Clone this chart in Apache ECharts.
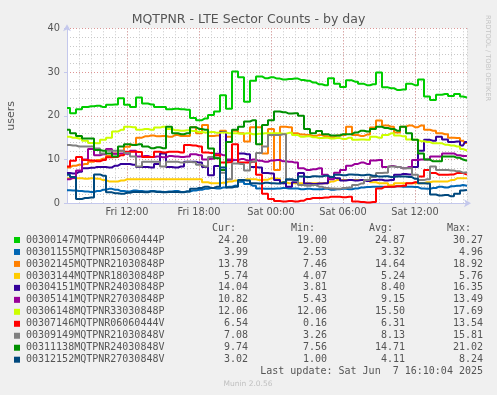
<!DOCTYPE html>
<html><head><meta charset="utf-8">
<script src="https://cdn.jsdelivr.net/npm/echarts@6/dist/echarts.min.js"></script>
<style>html,body{margin:0;padding:0;background:#f0f0f0;}#c{width:497px;height:395px;}</style>
</head><body><div id="c"></div>
<script>
// hours since Fri 00:00
const times = [7,7.5,8,8.5,9,9.5,10,10.5,11,11.5,
12,12.5,13,13.5,14,14.5,15,15.5,16,16.5,
17,17.5,18,18.5,19,19.5,20,20.5,21,21.5,
22,22.5,23,23.5,24,24.5,25,25.5,26,26.5,
27,27.5,28,28.5,29,29.5,30,30.5,31,31.5,
32,32.5,33,33.5,34,34.5,35,35.5,36,36.5,
37,37.5,38,38.5,39,39.5,40,40.33];

const xTickValues = [12, 18, 24, 30, 36];
const xTickLabels = ['Fri 12:00', 'Fri 18:00', 'Sat 00:00', 'Sat 06:00', 'Sat 12:00'];
const yTickValues = [0, 10, 20, 30, 40];

const names = ['00300147MQTPNR06060444P','00301155MQTPNR15030848P','00302145MQTPNR21030848P','00303144MQTPNR18030848P','00304151MQTPNR24030848P','00305141MQTPNR27030848P','00306148MQTPNR33030848P','00307146MQTPNR06060444V','00309149MQTPNR21030848V','00311138MQTPNR24030848V','00312152MQTPNR27030848V'];
const colors = ['#00cc00','#0066b3','#ff8000','#ffcc00','#330099','#990099','#ccff00','#ff0000','#808080','#008f00','#00487d'];
const curVals = ['24.20','3.99','13.78','5.74','14.04','10.82','12.06','6.54','7.08','9.74','3.02'];
const minVals = ['19.00','2.53','7.46','4.07','3.81','5.43','12.06','0.16','3.26','7.56','1.00'];
const avgVals = ['24.87','3.32','14.64','5.24','8.40','9.15','15.50','6.31','8.13','14.71','4.11'];
const maxVals = ['30.27','4.96','18.92','5.76','16.35','13.49','17.69','13.54','15.81','21.02','8.24'];

const s00300147 = [21.8,20.6,21.5,22.0,22.2,22.3,22.0,22.5,22.6,24.0,
22.5,22.0,24.2,22.8,22.6,22.0,22.0,21.5,21.6,21.5,
21.4,19.5,19.0,19.4,20.2,21.0,24.7,21.6,30.1,28.8,
23.2,28.0,29.0,28.6,28.8,28.5,28.3,28.4,28.5,28.2,
28.0,27.6,27.2,27.0,28.6,27.3,26.6,28.1,27.8,27.3,
27.0,27.2,29.9,26.5,26.3,25.9,26.0,27.3,27.0,28.3,
24.4,23.6,24.8,25.0,24.5,25.0,24.4,24.2];
const s00301155 = [3.0,2.9,2.8,2.7,2.6,2.8,3.1,3.3,3.1,2.8,
2.7,2.9,2.8,2.7,2.8,2.7,2.6,2.7,2.8,2.6,
2.7,2.9,3.1,3.3,3.5,3.4,3.6,3.8,4.0,4.9,
4.4,4.0,3.4,3.3,3.3,3.4,3.5,3.4,3.4,3.2,
3.3,3.2,3.2,3.3,3.1,3.2,3.3,3.2,3.4,3.6,
3.7,3.8,3.8,3.7,3.8,3.9,3.8,3.8,3.7,3.4,
3.3,3.5,3.8,3.6,3.9,4.0,4.2,4.0];
const s00302145 = [8.2,8.6,8.8,9.0,9.5,9.9,10.2,10.8,11.4,12.0,
12.9,13.4,15.0,15.3,15.5,15.3,15.4,15.2,15.6,15.4,
15.4,17.4,16.0,17.9,15.4,15.5,16.6,15.2,16.6,16.0,
14.1,17.4,17.4,11.4,17.0,7.6,17.5,17.4,16.0,15.7,
15.6,15.4,15.6,15.3,15.1,15.5,15.6,17.5,15.6,15.4,
15.7,17.3,18.9,17.8,17.5,16.2,17.5,17.8,17.4,17.8,
16.8,16.6,16.0,15.8,15.0,14.9,14.3,13.8];
const s00303144 = [5.7,5.7,5.7,5.6,5.7,5.6,5.3,5.0,5.0,5.2,
5.5,5.5,5.5,5.5,5.5,5.5,5.5,5.5,5.5,5.5,
5.5,5.5,5.5,4.8,4.6,4.6,4.7,5.0,5.2,5.3,
5.5,5.5,5.3,5.4,5.7,5.6,4.8,4.6,4.6,4.6,
4.6,4.6,4.6,4.6,5.0,5.3,5.3,5.3,5.3,5.3,
5.3,4.8,4.6,4.6,4.1,4.6,4.6,4.6,4.6,4.6,
4.8,5.0,5.0,5.0,5.3,5.7,5.7,5.74];
const s00304151 = [6.9,6.8,7.2,8.0,8.1,8.3,8.3,8.2,8.6,9.0,
9.0,8.8,8.3,8.3,8.2,9.0,11.4,8.3,8.2,8.4,
9.5,9.5,9.3,8.3,6.4,8.5,16.3,9.8,9.9,11.4,
11.2,8.3,8.2,6.9,6.8,5.3,4.6,3.8,4.8,6.9,
4.5,4.4,4.5,4.6,5.9,5.7,5.2,5.3,5.2,5.3,
5.1,5.3,5.4,5.2,5.3,6.5,6.7,6.6,8.3,12.0,
14.5,14.3,15.2,14.6,14.0,14.1,13.2,14.0];
const s00305141 = [5.5,5.8,7.5,10.0,12.4,11.0,11.2,12.4,11.3,11.4,
11.3,12.0,10.7,10.8,10.6,10.7,10.5,10.8,10.7,10.6,
10.7,11.2,11.0,10.0,10.2,11.3,11.0,10.0,9.9,10.1,
9.8,10.0,9.7,9.5,9.8,9.9,9.6,9.5,9.3,8.0,
7.6,7.8,8.0,6.5,5.5,7.0,7.6,8.6,9.0,9.3,
9.0,9.8,9.9,8.3,8.5,8.3,8.0,8.3,9.9,10.0,
10.0,10.7,10.7,11.4,11.4,11.0,10.8,10.82];
const s00306148 = [15.2,15.0,14.8,14.3,13.8,13.7,14.5,15.0,16.4,16.8,
17.5,17.4,16.8,17.0,16.8,17.3,17.5,17.0,16.7,16.6,
16.7,16.5,16.3,16.2,16.3,16.1,16.2,16.0,16.0,15.9,
16.0,15.8,15.9,16.0,16.0,16.0,15.9,16.1,15.6,15.2,
15.3,15.1,14.9,15.0,14.8,14.9,14.7,15.0,14.5,14.6,
14.5,15.2,15.0,15.6,16.0,15.5,15.3,14.6,14.5,14.2,
14.0,13.7,13.7,13.4,13.2,13.0,12.4,12.06];
const s00307146 = [8.4,9.7,10.6,9.9,9.8,9.6,9.9,10.5,10.6,11.0,
11.8,11.8,11.7,10.6,10.6,11.8,11.6,11.8,11.8,11.6,
13.3,13.2,13.0,11.6,11.5,11.0,9.3,9.4,13.5,9.3,
9.3,9.5,6.5,2.2,1.0,0.5,0.4,0.5,0.4,0.6,
1.0,1.2,1.2,1.3,1.5,1.5,1.4,1.5,0.4,0.3,
0.2,0.3,3.4,3.8,3.8,3.9,4.0,4.6,4.8,6.1,
7.6,6.9,6.5,6.5,6.6,6.9,6.9,6.54];
const s00309149 = [13.3,13.2,13.0,13.0,13.0,12.5,11.4,12.0,12.0,12.0,
11.5,10.7,8.4,9.5,9.5,9.5,8.4,9.5,9.5,9.3,
9.5,9.4,8.8,8.4,10.6,10.4,7.0,5.5,9.1,9.0,
7.5,9.5,11.5,13.0,15.6,15.6,15.8,5.3,5.2,4.2,
4.0,4.2,3.8,3.5,3.4,3.3,3.5,3.6,4.2,4.5,
5.3,6.0,6.9,7.0,8.4,8.3,8.0,8.0,6.5,5.3,
5.5,8.4,7.6,7.6,7.5,7.3,7.0,7.08];
const s00311138 = [16.8,16.0,15.4,14.8,14.8,12.2,12.0,11.4,10.7,13.0,
13.5,13.3,13.5,13.0,12.6,12.8,12.6,17.5,16.0,15.8,
16.0,17.4,17.0,16.8,12.5,10.3,7.6,14.0,16.8,17.5,
18.7,19.0,13.5,17.9,19.0,21.0,20.8,20.5,20.6,20.0,
17.0,16.0,16.5,15.8,15.5,15.5,15.8,15.8,16.2,16.6,
16.4,17.0,17.5,17.2,17.0,16.6,17.5,16.0,14.5,11.4,
10.0,9.6,9.6,10.7,10.7,10.4,10.0,9.74];
const s00312152 = [6.5,6.0,1.0,1.2,1.3,6.6,6.3,2.5,2.3,2.2,
2.4,2.6,2.6,2.5,2.7,2.6,2.5,2.6,2.6,2.5,
2.7,3.3,3.5,3.8,3.5,3.8,8.2,3.6,3.8,5.3,
5.2,4.6,4.5,4.7,4.6,4.5,4.8,5.5,5.3,6.1,
6.0,6.2,6.1,6.3,6.0,6.5,6.4,6.6,6.5,6.4,
6.5,6.3,6.1,6.2,6.0,6.1,6.1,6.0,5.6,4.6,
4.5,2.0,1.8,1.9,1.6,2.2,2.9,3.02];

const seriesValues = [s00300147,s00301155,s00302145,s00303144,s00304151,s00305141,s00306148,s00307146,s00309149,s00311138,s00312152];

const chart = echarts.init(document.getElementById('c'), null, {renderer:'canvas'});
const TXT = '#555555';
const AX = '#c4c8ec';
const MINOR = '#c8c8c8';
const MAJOR = '#dd9494';
const SANS = 'DejaVu Sans';

const graphics = [];
graphics.push({type:'text', x:248.5, y:19.5, style:{text:'MQTPNR - LTE Sector Counts - by day', fill:TXT, font:'12.5px "DejaVu Sans"', align:'center', verticalAlign:'middle'}});
graphics.push({type:'text', x:488, y:15, rotation:-Math.PI/2, style:{text:'RRDTOOL / TOBI OETIKER', fill:'#c4c4c4', font:'6.7px "DejaVu Sans"', align:'left', verticalAlign:'middle'}});
const colR = [248, 327, 405, 483];
const hdr = ['Cur:', 'Min:', 'Avg:', 'Max:'];
hdr.forEach((h, k) => graphics.push({type:'text', x:colR[k]-12, y:228.5, style:{text:h, fill:TXT, font:'10px "DejaVu Sans Mono"', align:'right', verticalAlign:'middle'}}));
names.forEach((n, i) => {
  const y = 240 + i * 11.97;
  graphics.push({type:'rect', shape:{x:14, y:y-3, width:6, height:6}, style:{fill:colors[i]}});
  graphics.push({type:'text', x:26, y:y, style:{text:n, fill:TXT, font:'10px "DejaVu Sans Mono"', align:'left', verticalAlign:'middle'}});
  [curVals, minVals, avgVals, maxVals].forEach((arr, k) => {
    graphics.push({type:'text', x:colR[k], y:y, style:{text:arr[i], fill:TXT, font:'10px "DejaVu Sans Mono"', align:'right', verticalAlign:'middle'}});
  });
});
graphics.push({type:'text', x:483, y:371.7, style:{text:'Last update: Sat Jun  7 16:10:04 2025', fill:TXT, font:'10px "DejaVu Sans Mono"', align:'right', verticalAlign:'middle'}});
graphics.push({type:'text', x:248, y:384.5, style:{text:'Munin 2.0.56', fill:'#c0c0c0', font:'7.5px "DejaVu Sans"', align:'center', verticalAlign:'middle'}});

const series = seriesValues.map((vals, i) => ({
  name: names[i], type:'line', xAxisIndex:0, yAxisIndex:0,
  data: times.map((t, j) => [t, vals[j]]),
  symbol:'none', showSymbol:false, step:'middle', silent:true, z:3,
  lineStyle:{color:colors[i], width:2}, itemStyle:{color:colors[i]}
}));

chart.setOption({
  animation:false,
  backgroundColor:'#f0f0f0',
  grid:{left:67, top:28.3, width:400, height:175, show:true, backgroundColor:'#ffffff', borderWidth:0, containLabel:false, outerBoundsMode:'none'},
  xAxis:[
    {type:'value', min:7, max:40.3333, interval:1, position:'bottom',
     axisLine:{show:true, onZero:false, lineStyle:{color:AX, width:1}, symbol:['none','arrow'], symbolSize:[6,7], symbolOffset:[0,4]},
     axisTick:{show:false}, axisLabel:{show:false},
     splitLine:{show:true, lineStyle:{color:MINOR, width:1, type:[1,2]}}},
    {type:'value', min:7, max:40.3333, position:'bottom',
     axisLine:{show:false}, axisTick:{show:false, customValues:xTickValues},
     axisLabel:{show:true, customValues:xTickValues, margin:4, color:TXT, fontFamily:SANS, fontSize:9.8,
       formatter:(v)=>{const k = xTickValues.indexOf(Math.round(v)); return k>=0 ? xTickLabels[k] : '';}},
     splitLine:{show:true, lineStyle:{color:MAJOR, width:1, type:[1,2]}}}
  ],
  yAxis:{type:'value', min:0, max:40, interval:10,
    name:'users', nameLocation:'middle', nameGap:50, nameRotate:90,
    nameTextStyle:{color:TXT, fontFamily:SANS, fontSize:11},
    axisLine:{show:true, lineStyle:{color:AX, width:1}, symbol:['none','arrow'], symbolSize:[6,7], symbolOffset:[0,4]},
    axisTick:{show:true, length:3, lineStyle:{color:AX}},
    axisLabel:{color:TXT, fontFamily:SANS, fontSize:9.8, margin:7, customValues:yTickValues},
    splitLine:{show:true, lineStyle:{color:MAJOR, width:1, type:[1,2]}},
    minorTick:{show:false, splitNumber:5},
    minorSplitLine:{show:true, lineStyle:{color:MINOR, width:1, type:[1,2]}}
  },
  graphic:graphics,
  series:series
});
</script></body></html>
